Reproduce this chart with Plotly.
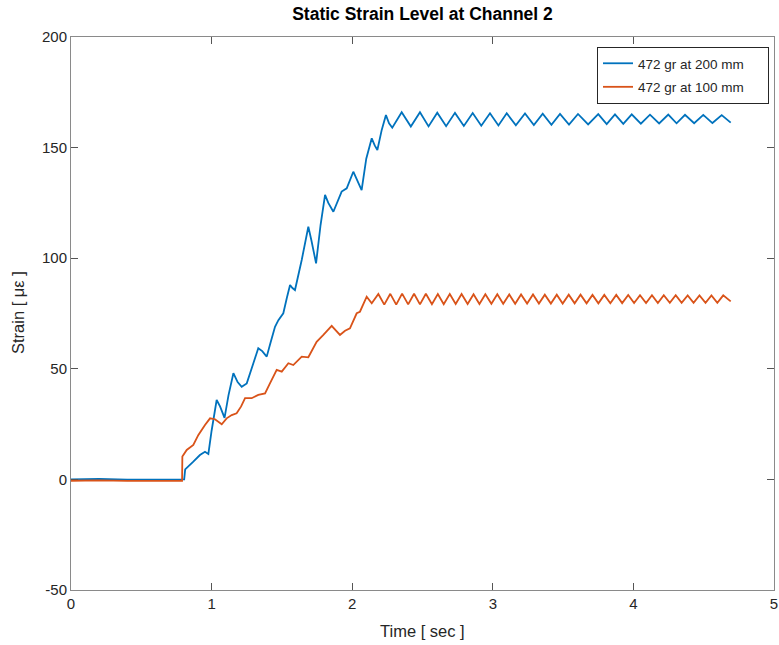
import plotly.graph_objects as go

# ---------------- data ----------------
# Blue: 472 gr at 200 mm  -- rise section
blue_t_rise = [0.0, 0.20, 0.40, 0.60, 0.805, 0.812, 0.834, 0.870, 0.917, 0.953, 0.977, 1.000,
               1.036, 1.060, 1.092, 1.120, 1.155, 1.185, 1.214, 1.250, 1.297, 1.332,
               1.360, 1.392, 1.420, 1.451, 1.475, 1.510, 1.535, 1.558, 1.575, 1.593,
               1.641, 1.688, 1.710, 1.743, 1.775, 1.807, 1.830, 1.866, 1.925, 1.961,
               2.008, 2.030, 2.067, 2.100, 2.139, 2.160, 2.179, 2.210, 2.240, 2.262, 2.285]
blue_y_rise = [0.0, 0.2, -0.1, 0.1, 0.0, 4.5, 5.7, 8.0, 11.0, 12.5, 11.5, 22.0,
               35.9, 33.0, 27.8, 38.0, 48.0, 44.0, 41.9, 43.4, 52.5, 59.3,
               58.0, 55.5, 62.0, 69.0, 72.0, 75.1, 82.0, 87.9, 86.5, 85.6,
               99.2, 114.2, 108.0, 97.7, 115.0, 128.6, 125.0, 121.0, 130.1, 131.6,
               139.1, 136.0, 130.8, 145.0, 154.2, 151.0, 148.9, 158.0, 164.7, 161.0, 159.0]
# Blue plateau: peaks and troughs
blue_peak_t = [2.352, 2.482, 2.605, 2.731, 2.857, 2.980, 3.099, 3.229, 3.355, 3.478,
               3.606, 3.750, 3.869, 3.988, 4.118, 4.248, 4.367, 4.497, 4.628]
blue_peak_y = [166.0, 166.0, 165.8, 165.7, 165.6, 165.5, 165.5, 165.4, 165.3, 165.2,
               165.2, 165.1, 165.0, 165.0, 164.9, 164.9, 164.8, 164.8, 164.7]
blue_trough_t = [2.417, 2.543, 2.668, 2.794, 2.918, 3.040, 3.164, 3.292, 3.417, 3.542,
                 3.678, 3.810, 3.928, 4.053, 4.183, 4.307, 4.432, 4.562, 4.692]
blue_trough_y = [159.5, 159.6, 159.7, 159.8, 159.9, 160.0, 160.1, 160.2, 160.3, 160.4,
                 160.5, 160.6, 160.7, 160.8, 160.9, 161.0, 161.0, 161.1, 161.3]

# Orange: 472 gr at 100 mm -- rise section
red_t_rise = [0.0, 0.20, 0.40, 0.60, 0.790, 0.792, 0.823, 0.870, 0.906, 0.953, 0.989, 1.024,
              1.072, 1.107, 1.143, 1.178, 1.210, 1.238, 1.285, 1.332, 1.380, 1.415,
              1.463, 1.499, 1.546, 1.581, 1.641, 1.688, 1.747, 1.795, 1.854, 1.913,
              1.949, 1.984, 2.032, 2.055, 2.103, 2.139]
red_y_rise = [-0.6, -0.4, -0.7, -0.5, -0.6, 10.3, 13.3, 15.6, 20.1, 24.6, 27.6, 27.2,
              24.9, 27.6, 29.1, 29.9, 33.0, 36.7, 36.7, 38.2, 38.9, 43.4,
              49.5, 48.7, 52.5, 51.7, 55.5, 55.2, 62.2, 65.3, 69.4, 65.3,
              67.2, 68.3, 75.1, 75.8, 82.6, 79.6]
# Orange plateau: peaks and troughs
red_peak_t = [2.186, 2.271, 2.355, 2.440, 2.524, 2.609, 2.694, 2.778, 2.863, 2.947,
              3.032, 3.117, 3.201, 3.286, 3.370, 3.455, 3.540, 3.624, 3.709, 3.793,
              3.878, 3.963, 4.047, 4.132, 4.216, 4.301, 4.386, 4.470, 4.555, 4.639]
red_peak_y = [83.8, 83.9, 84.0, 83.9, 83.9, 83.8, 83.8, 83.8, 83.7, 83.7,
              83.7, 83.6, 83.6, 83.6, 83.5, 83.5, 83.5, 83.5, 83.4, 83.4,
              83.4, 83.4, 83.3, 83.3, 83.3, 83.3, 83.2, 83.2, 83.2, 83.2]
red_trough_t = [2.228, 2.313, 2.398, 2.482, 2.567, 2.651, 2.736, 2.821, 2.905, 2.990,
                3.074, 3.159, 3.244, 3.328, 3.413, 3.497, 3.582, 3.667, 3.751, 3.836,
                3.920, 4.005, 4.090, 4.174, 4.259, 4.343, 4.428, 4.513, 4.597, 4.692]
red_trough_y = [79.0, 79.0, 79.1, 79.1, 79.2, 79.2, 79.3, 79.3, 79.3, 79.4,
                79.4, 79.4, 79.5, 79.5, 79.5, 79.5, 79.6, 79.6, 79.6, 79.6,
                79.7, 79.7, 79.7, 79.7, 79.8, 79.8, 79.8, 79.8, 79.8, 80.5]

x_ticks = [0, 1, 2, 3, 4, 5]
y_ticks = [-50, 0, 50, 100, 150, 200]

series_names = ["472 gr at 200 mm", "472 gr at 100 mm"]
title_text = "Static Strain Level at Channel 2"
x_label = "Time [ sec ]"
y_label = "Strain [ \u03bc\u03b5 ]"


def interleave(pt, py, tt, ty):
    xs, ys = [], []
    for a, b, c, d in zip(pt, py, tt, ty):
        xs += [a, c]
        ys += [b, d]
    return xs, ys


bx, by = interleave(blue_peak_t, blue_peak_y, blue_trough_t, blue_trough_y)
blue_t = blue_t_rise + bx
blue_y = blue_y_rise + by
rx, ry = interleave(red_peak_t, red_peak_y, red_trough_t, red_trough_y)
red_t = red_t_rise + rx
red_y = red_y_rise + ry

BLUE = "#0072BD"
ORANGE = "#D95319"
AX = "#262626"
FONT = "Liberation Sans, Arial, Helvetica, sans-serif"
PAD = "\u00a0" * 5  # right padding inside the legend box

fig = go.Figure()
fig.add_trace(go.Scatter(x=blue_t, y=blue_y, mode="lines", name=series_names[0] + PAD,
                         line=dict(color=BLUE, width=1.8), legendgroup="a"))
fig.add_trace(go.Scatter(x=red_t, y=red_y, mode="lines", name=series_names[1] + PAD,
                         line=dict(color=ORANGE, width=1.8), legendgroup="b"))

axis_common = dict(showgrid=False, zeroline=False, showline=True, linecolor="#8a8a8a",
                   linewidth=1, mirror="ticks", ticks="inside", ticklen=7,
                   tickcolor="#555555", tickwidth=1, automargin=False,
                   tickfont=dict(family=FONT, size=15, color=AX))

fig.update_xaxes(range=[0, 5], tickvals=x_ticks, ticktext=[str(v) for v in x_ticks],
                 **axis_common)
fig.update_yaxes(range=[-50, 200], tickvals=y_ticks, ticktext=[str(v) for v in y_ticks],
                 **axis_common)

fig.update_layout(
    width=779, height=645,
    margin=dict(l=71, r=5, t=37, b=55, autoexpand=False),
    paper_bgcolor="white", plot_bgcolor="white",
    font=dict(family=FONT, color=AX),
    title=dict(text="<b>" + title_text + "</b>", x=0.5, xref="paper",
               y=1 - 14 / 645, yref="container", xanchor="center", yanchor="middle",
               font=dict(family=FONT, size=17.5, color="black")),
    showlegend=True,
    legend=dict(x=(769 - 71) / 703, xanchor="right", y=(590 - 47) / 553, yanchor="top",
                bgcolor="white", bordercolor=AX, borderwidth=1,
                font=dict(family=FONT, size=13.5, color=AX), tracegroupgap=3),
    annotations=[
        dict(text=x_label, x=0.5, xref="paper", y=(590 - 631) / 553, yref="paper",
             showarrow=False, xanchor="center", yanchor="middle",
             font=dict(family=FONT, size=16.5, color=AX)),
        dict(text=y_label, x=(18 - 71) / 703, xref="paper", y=(590 - 313) / 553,
             yref="paper", showarrow=False, textangle=-90, xanchor="center",
             yanchor="middle", font=dict(family=FONT, size=16.5, color=AX)),
    ],
)

fig.write_html("out.html", config={"displayModeBar": False},
               post_script="document.body.style.margin='0';document.body.style.overflow='hidden';")
